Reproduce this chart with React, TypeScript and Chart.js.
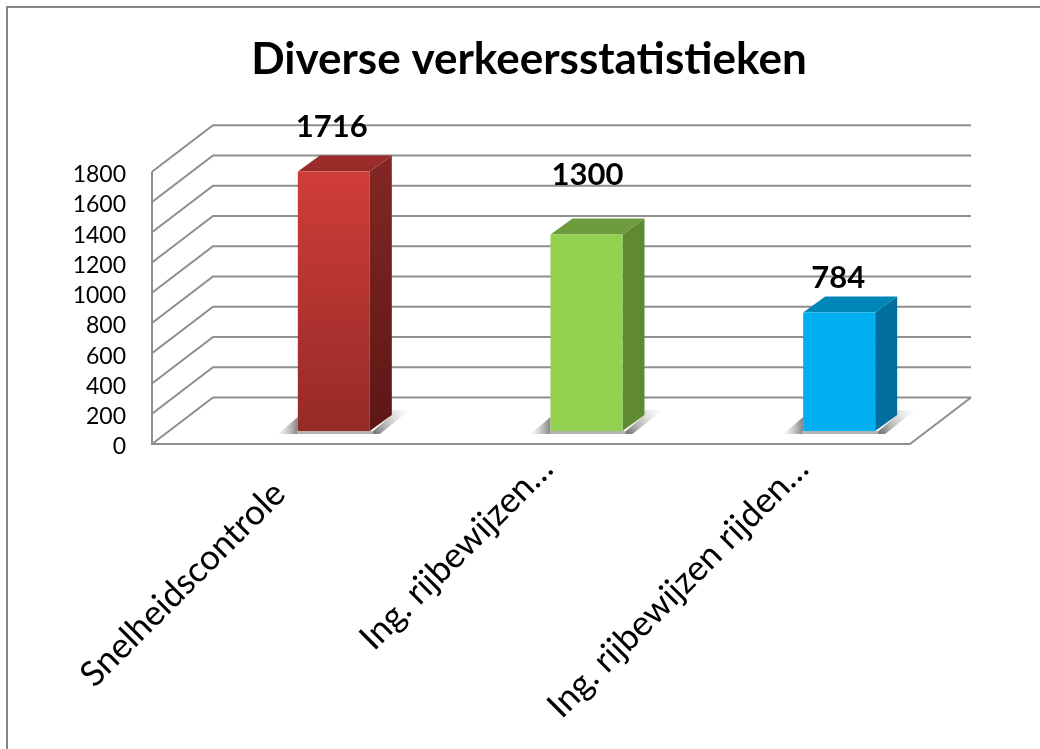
import React, { useEffect, useRef } from "react";
import { Chart, registerables } from "chart.js";

Chart.register(...registerables);

const titleText = "Diverse verkeersstatistieken";
const categories = ["Snelheidscontrole", "Ing. rijbewijzen…", "Ing. rijbewijzen rijden…"];
const values = [1716, 1300, 784];
const frontTop = ["#d03d3a", "#92d050", "#00b0f0"];
const frontBottom = ["#952a27", "#92d050", "#00b0f0"];
const sideTop = ["#812624", "#5f8a32", "#006f9b"];
const sideBottom = ["#5c1715", "#5f8a32", "#006f9b"];
const topFace = ["#9a2c29", "#6e9b3c", "#0087b8"];
const labelLift = [45, 59, 34];
const labelShift = [-2, 1, -1];
const tickNudgeX = [1, 16, 19];
const tickNudgeY = [-5, -30, -30];

const WALL_DX = 61;
const WALL_DY = -46.5;
const BAR_DX = 55.5;
const BAR_DY = -13;
const FACE_DX = 22;
const FACE_DY = -16;
const FONT = "Lato, Carlito, sans-serif";

const threeD = {
  id: "threeD",
  beforeDraw(chart: any) {
    const { ctx, width, height } = chart;
    ctx.save();
    ctx.fillStyle = "#ffffff";
    ctx.fillRect(0, 0, width, height);
    ctx.strokeStyle = "#868686";
    ctx.lineWidth = 2;
    ctx.beginPath();
    ctx.moveTo(7, height);
    ctx.lineTo(7, 7);
    ctx.lineTo(width, 7);
    ctx.stroke();
    ctx.restore();
  },
  beforeDatasetsDraw(chart: any) {
    const { ctx, chartArea, scales } = chart;
    const { left, right, bottom } = chartArea;
    const y = scales.y;
    ctx.save();
    ctx.strokeStyle = "#8e8e8e";
    ctx.lineWidth = 2;
    ctx.lineJoin = "miter";
    // value lines: along the side wall, then along the back wall
    y.ticks.forEach((t: any) => {
      const py = y.getPixelForValue(t.value);
      ctx.beginPath();
      ctx.moveTo(left, py);
      ctx.lineTo(left + WALL_DX, py + WALL_DY);
      ctx.lineTo(right + WALL_DX, py + WALL_DY);
      ctx.stroke();
    });
    // axis and floor
    ctx.beginPath();
    ctx.moveTo(left, y.getPixelForValue(y.max));
    ctx.lineTo(left, bottom);
    ctx.lineTo(right, bottom);
    ctx.lineTo(right + WALL_DX, bottom + WALL_DY);
    ctx.stroke();

    ctx.translate(BAR_DX, BAR_DY);
    const bars = chart.getDatasetMeta(0).data;
    bars.forEach((bar: any, i: number) => {
      const l = bar.x - bar.width / 2;
      const r = bar.x + bar.width / 2;
      const t = bar.y;
      const b = bar.base;
      // floor shadow
      let g = ctx.createLinearGradient(l - 20, 0, l, 0);
      g.addColorStop(0, "rgba(190,190,190,0.1)");
      g.addColorStop(1, "rgba(130,130,130,1)");
      ctx.fillStyle = g;
      ctx.beginPath();
      ctx.moveTo(l, b - 14);
      ctx.lineTo(l - 20, b + 3);
      ctx.lineTo(l, b + 3);
      ctx.closePath();
      ctx.fill();
      g = ctx.createLinearGradient(r + 5, b, r + 36, b - 20);
      g.addColorStop(0, "rgba(125,125,125,1)");
      g.addColorStop(1, "rgba(215,215,215,0.15)");
      ctx.fillStyle = g;
      ctx.beginPath();
      ctx.moveTo(r, b + 3);
      ctx.lineTo(r + FACE_DX, b + FACE_DY);
      ctx.lineTo(r + FACE_DX, b + FACE_DY - 5);
      ctx.lineTo(r + 40, b + FACE_DY - 5);
      ctx.lineTo(r + 10, b + 3);
      ctx.closePath();
      ctx.fill();
      ctx.fillStyle = "#b4b4b4";
      ctx.fillRect(l - 1, b, r - l + 4, 3);
      // side face
      g = ctx.createLinearGradient(0, t, 0, b);
      g.addColorStop(0, sideTop[i]);
      g.addColorStop(1, sideBottom[i]);
      ctx.fillStyle = g;
      ctx.beginPath();
      ctx.moveTo(r, t);
      ctx.lineTo(r + FACE_DX, t + FACE_DY);
      ctx.lineTo(r + FACE_DX, b + FACE_DY);
      ctx.lineTo(r, b);
      ctx.closePath();
      ctx.fill();
      // top face
      ctx.fillStyle = topFace[i];
      ctx.beginPath();
      ctx.moveTo(l, t);
      ctx.lineTo(l + FACE_DX, t + FACE_DY);
      ctx.lineTo(r + FACE_DX, t + FACE_DY);
      ctx.lineTo(r, t);
      ctx.closePath();
      ctx.fill();
    });
    // keep the translation for the native bars; restored in afterDatasetsDraw
  },
  afterDatasetsDraw(chart: any) {
    const { ctx } = chart;
    ctx.restore();
    ctx.save();
    ctx.fillStyle = "#000000";
    ctx.font = `bold 31px ${FONT}`;
    ctx.textAlign = "center";
    ctx.textBaseline = "middle";
    const bars = chart.getDatasetMeta(0).data;
    values.forEach((v, i) => {
      const bar = bars[i];
      ctx.fillText(String(v), bar.x + BAR_DX + labelShift[i], bar.y + BAR_DY - labelLift[i]);
    });
    ctx.restore();
  },
  afterLayout(chart: any) {
    if (chart.titleBlock) {
      chart.titleBlock.left = 0;
      chart.titleBlock.right = 1058;
    }
    const items = chart.scales.x.getLabelItems();
    items.forEach((item: any, i: number) => {
      item.options.translation[0] += tickNudgeX[i];
      item.options.translation[1] += tickNudgeY[i];
    });
  },
};

export default function App() {
  const ref = useRef<HTMLCanvasElement>(null);
  useEffect(() => {
    const canvas = ref.current!;
    const chart = new Chart(canvas, {
      type: "bar",
      data: {
        labels: categories,
        datasets: [
          {
            data: values,
            clip: false as any,
            barPercentage: 0.57,
            categoryPercentage: 0.5,
            borderRadius: 1,
            backgroundColor: (c: any) => {
              const i = c.dataIndex ?? 0;
              const y = c.chart.scales?.y;
              const p0 = y ? y.getPixelForValue(values[i]) : NaN;
              const p1 = y ? y.getPixelForValue(0) : NaN;
              if (!Number.isFinite(p0) || !Number.isFinite(p1)) return frontTop[i];
              const g = c.chart.ctx.createLinearGradient(0, p0, 0, p1);
              g.addColorStop(0, frontTop[i]);
              g.addColorStop(1, frontBottom[i]);
              return g;
            },
          },
        ],
      },
      plugins: [threeD],
      options: {
        responsive: false,
        animation: false,
        layout: { padding: { left: 0, right: 130, top: 0, bottom: 0 } },
        plugins: {
          legend: { display: false },
          tooltip: { enabled: false },
          title: {
            display: true,
            text: titleText,
            color: "#000000",
            font: { family: FONT, size: 44, weight: "bold" },
            padding: { top: 33, bottom: 86 },
          },
        },
        scales: {
          x: {
            grid: { display: false },
            border: { display: false },
            afterFit: (s: any) => {
              s.height = 305;
            },
            ticks: {
              color: "#000000",
              font: { family: FONT, size: 35 },
              minRotation: 45,
              maxRotation: 45,
              autoSkip: false,
              padding: 26,
            },
          },
          y: {
            min: 0,
            max: 1800,
            grid: { display: false },
            border: { display: false },
            afterFit: (s: any) => {
              s.width = 152;
            },
            ticks: {
              stepSize: 200,
              autoSkip: false,
              color: "#000000",
              font: { family: FONT, size: 23 },
              padding: 18,
              labelOffset: 3,
              callback: (v: any) => String(v),
            },
          },
        },
      },
    } as any);
    return () => chart.destroy();
  }, []);
  return (
    <canvas
      ref={ref}
      width={1040}
      height={749}
      style={{ position: "absolute", left: 0, top: 0, width: 1040, height: 749, display: "block" }}
    />
  );
}
